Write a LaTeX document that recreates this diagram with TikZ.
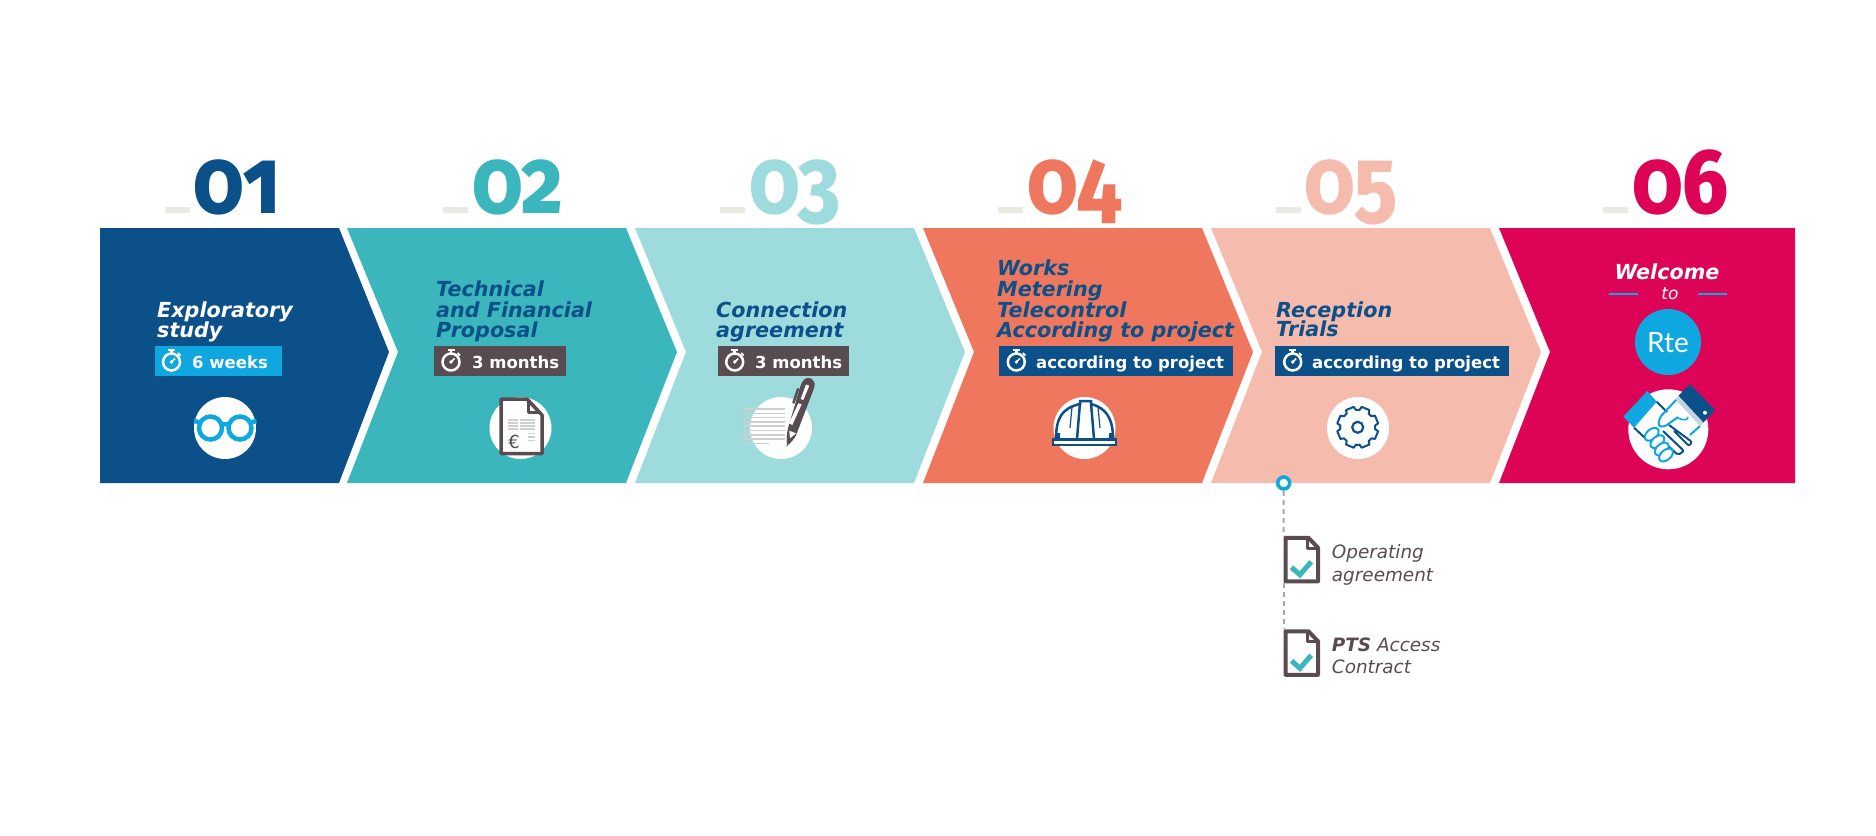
\documentclass[tikz,border=0pt]{standalone}
\usepackage{fontspec}
\setmainfont{DejaVu Sans}
\newfontfamily\numfont[Numbers=OldStyle,FakeStretch=.87]{Fira Sans ExtraBold}
\newfontfamily\logofont{Lato}
\usetikzlibrary{calc}
\definecolor{rteblue}{HTML}{0B5089}
\definecolor{rteteal}{HTML}{3AB6BC}
\definecolor{rtepale}{HTML}{9EDBDD}
\definecolor{rtecoral}{HTML}{EF775D}
\definecolor{rtesalmon}{HTML}{F5BBAD}
\definecolor{rtered}{HTML}{DD0356}
\definecolor{rtesky}{HTML}{0FA7DF}
\definecolor{rtegray}{HTML}{584C50}
\definecolor{rtebar}{HTML}{EAE9E4}
\definecolor{rteline}{HTML}{CFCFCF}
\tikzset{
  title/.style={anchor=base west,inner sep=0pt,font=\bfseries\itshape\fontsize{20.7}{22}\selectfont,text=rteblue},
  badgetext/.style={anchor=base west,inner sep=0pt,text=white,font=\bfseries\fontsize{16.5}{18}\selectfont},
  digits/.style={anchor=base west,inner sep=0pt,font=\numfont\fontsize{92}{92}\selectfont},
  note/.style={anchor=base west,inner sep=0pt,text=rtegray,font=\itshape\fontsize{18.4}{20}\selectfont},
  docbox/.style={inner sep=0pt,minimum width=36pt,minimum height=47pt},
  dashline/.style={rtegray!50,line width=2,dash pattern=on 5pt off 4pt},
  stopwatch/.pic={
    \draw[white,line width=2.5] (0,0) circle (8.5);
    \fill[white] (-3.5,-13.5) rectangle (3.5,-11.5);
    \draw[white,line width=2.5] (0,-11.5) -- (0,-8);
    \draw[white,line width=1.5] (0,0) -- (3.5,-3.5);
    \fill[white] (0,0) circle (1.8);
    \draw[white,line width=1.8] (6.5,-9) -- (9,-6.5);
  },
  checkdoc/.pic={
    \draw[rtegray,fill=white,line width=4,line join=round] (2,2) -- (25,2) -- (34.5,12) -- (34.5,45.5) -- (2,45.5) -- cycle;
    \draw[rtegray,line width=3,line join=round] (24,2) -- (24,12.5) -- (34,12.5);
    \draw[rteteal,line width=5] (8,31.5) -- (16.4,39) -- (27.7,26);
  },
}
\begin{document}
\begin{tikzpicture}[x=1pt,y=-1pt]
\useasboundingbox (0,0) rectangle (1876,835);

\foreach \l/\n/\r/\t/\c in {100/100/339/389/rteblue,347/398/626/677/rteteal,635/686/914/965/rtepale,923/974/1202/1253/rtecoral,1211/1262/1490/1541/rtesalmon}
  \fill[\c] (\l,228) -- (\r,228) -- (\t,352) -- (\r,483) -- (\l,483) -- (\n,352) -- cycle;
\fill[rtered] (1499,228) -- (1795,228) -- (1795,483) -- (1499,483) -- (1550,352) -- cycle;

\foreach \x/\y/\s/\c in {165/193/01/rteblue,443/472/02/rteteal,720/749/03/rtepale,998/1027/04/rtecoral,1276/1304/05/rtesalmon,1603/1632/06/rtered}{
  \fill[rtebar] (\x,207) rectangle ++(25,6);
  \node[digits,text=\c] (num\s) at (\y,213) {\s};
}

\node[title,text=white] (t1a) at (157,317) {Exploratory};
\node[title,text=white] (t1b) at (157,337) {study};
\node[title] (t2a) at (436,296) {Technical};
\node[title] (t2b) at (436,317) {and Financial};
\node[title] (t2c) at (436,337) {Proposal};
\node[title] (t3a) at (716,317) {Connection};
\node[title] (t3b) at (716,337) {agreement};
\node[title] (t4a) at (997,275) {Works};
\node[title] (t4b) at (997,296) {Metering};
\node[title] (t4c) at (997,317) {Telecontrol};
\node[title] (t4d) at (997,337) {According to project};
\node[title] (t5a) at (1276,317) {Reception};
\node[title] (t5b) at (1276,336) {Trials};
\node[title,text=white,anchor=base] (t6a) at (1667,279) {Welcome};
\node[anchor=base,inner sep=0pt,text=white,font=\itshape\fontsize{17}{19}\selectfont] (t6b) at (1670,299) {to};
\draw[rtesky,line width=1.5] (1609,294) -- (1638,294) (1698,294) -- (1727,294);

% badges
\foreach \a/\b/\w/\t/\c/\s/\m in {155/282/171.5/192/rtesky/6 weeks/b1,434/566/451/472/rtegray/3 months/b2,718/849/734.7/755/rtegray/3 months/b3,999/1233/1016.3/1036/rteblue/according to project/b4,1275/1509/1292.7/1312/rteblue/according to project/b5}{
  \fill[\c] (\a,346) rectangle (\b,376);
  \pic at (\w,362) {stopwatch};
  \node[badgetext] (\m) at (\t,368) {\s};
}

% white discs
\foreach \x in {225,520.5,781,1084.5,1358}
  \fill[white] (\x,428) circle (31);
\fill[white] (1668.3,429.3) circle (40);
\fill[rtesky] (1668,342) circle (33);
\node[anchor=base,inner sep=0pt,text=white,font=\logofont\fontsize{28}{28}\selectfont] (logo) at (1668,352) {Rte};

% glasses
\draw[rtesky,line width=4.5] (210.5,428) circle (11.5) (240,428) circle (11.5) (222,424) -- (228.5,424) (199,422) -- (194,421) (251.5,422) -- (256.5,421);

% invoice
\draw[rtegray,fill=white,line width=3.5,line join=round] (501,399) -- (527,399) -- (542,415) -- (542,453.5) -- (501,453.5) -- cycle;
\draw[rtegray,line width=3,line join=round] (528,400) -- (528,412) -- (540,412);
\foreach \y in {420,423,426,429}
  \draw[rteline,line width=1.5] (508,\y) -- (518,\y) (520,\y) -- (535,\y);
\foreach \y in {433.5,437,440.5}
  \draw[rteline,line width=1.5] (527.5,\y) -- (535,\y);
\node[inner sep=0pt,text=rtegray,font=\fontsize{18}{18}\selectfont] (euro) at (514,442) {€};

% pen and lines
\foreach \y in {409,413.3,417.6,421.9,426.2,430.5,434.8,439.1}
  \draw[rteline,line width=1.5] (743,\y) -- (785,\y);
\draw[rteline,line width=1.5] (743,443.4) -- (769,443.4);
\fill[rtegray,rounded corners=4] (786.7,446.7) -- (787,431.5) -- (802,381) -- (808,376.5) -- (815,381) -- (814.5,387) -- (795,438) -- cycle;
\fill[rtegray] (786.7,446.7) -- (787,436) -- (794,436) -- cycle;
\fill[white] (806,384.5) -- (809.3,385.7) -- (803.3,400) -- (800.7,399) -- cycle;
\fill[white] (798.3,403.3) -- (801.7,404.3) -- (792.3,425) -- (789,423.3) -- cycle;
\fill[white] (789.3,430.7) -- (796,433.3) -- (790,438.3) -- cycle;
\draw[rtegray,line width=2.5] (798.3,388.3) -- (793.3,403.3);

% helmet
\draw[rteblue,fill=white,line width=2.5] (1056,439) .. controls (1056,418) and (1062,408) .. (1080,404) -- (1080,401) -- (1091,401) -- (1091,404) .. controls (1106,408) and (1113,418) .. (1113,439);
\draw[rteblue,line width=2.5] (1080,403) -- (1077,439) (1091,403) -- (1094,439);
\draw[rteblue,line width=1.2] (1072,407) -- (1070,428) (1098,407) -- (1100,428);
\draw[rteblue,fill=white,line width=2.5] (1053,439.5) -- (1116,439.5) -- (1116,445) -- (1053,445) -- cycle;
\fill[rteblue] (1056,433) rectangle (1060,439) (1109,433) rectangle (1113,439);

% gear
\draw[rteblue,line width=2,line join=round,shift={(1357.7,427.3)}]
  (0:17.5) \foreach \a in {0,45,...,315}{
    -- ({\a+6}:17.5) -- ({\a+11}:20.8) -- ({\a+34}:20.8) -- ({\a+39}:17.5) -- ({\a+45}:17.5)
  } -- cycle;
\draw[rteblue,line width=2.2] (1357.7,427.3) circle (5.5);

% handshake
\fill[rtesky] (1623.3,416.7) -- (1647.3,391) -- (1656.7,401.7) -- (1634,427.7) -- cycle;
\fill[rteblue] (1678.3,395.7) -- (1690,384.3) -- (1715,410) -- (1703.3,422.7) -- cycle;
\fill[white] (1705,412.7) circle (2);
\fill[rteblue!25] (1675,399) -- (1678.3,395.7) -- (1703.3,422.7) -- (1700,426) -- cycle;
\draw[rteblue,line width=2] (1656.7,401.7) -- (1667,412) (1634,427.7) -- (1645,438);
\draw[rtesky,line width=2,line join=round,rounded corners=3] (1676,400) -- (1660,417) -- (1658,426) -- (1664,427) -- (1678,417);
\draw[rtesky,line width=1.5] (1678,418) .. controls (1684,421) and (1688,420) .. (1688,417);
\draw[rtesky,line width=2] (1700,426) -- (1690,435);
\draw[rteblue,line width=2,line join=round,rounded corners=2] (1669,425) -- (1692,442) -- (1689,446) -- (1674,431);
\draw[rteblue,line width=2,line join=round,rounded corners=2] (1663,431) -- (1684,451) -- (1678,455) -- (1667,445);
\foreach \x/\y in {1651.7/434.3,1657.3/441.7,1661.7/449,1666/455}
  \draw[rtesky,fill=white,line width=2,rotate around={40:(\x,\y)}] (\x,\y) ellipse (8 and 5);

% pin and the two documents
\node[circle,draw=rtesky,fill=white,line width=3.5,inner sep=0pt,minimum size=12pt] (pin) at (1283.7,483) {};
\node[docbox] (doc1) at (1301.7,559.5) {};
\node[docbox] (doc2) at (1301.7,653) {};
\draw[dashline] (pin) -- (doc1.north west);
\draw[dashline] (doc1.south west) -- (doc2.north west);
\pic at (doc1.north west) {checkdoc};
\pic at (doc2.north west) {checkdoc};
\node[note] (n1a) at (1331.7,558) {Operating};
\node[note] (n1b) at (1331.7,581) {agreement};
\node[note] (n2a) at (1331.7,651) {\textbf{PTS} Access};
\node[note] (n2b) at (1331.7,673) {Contract};
\end{tikzpicture}
\end{document}
